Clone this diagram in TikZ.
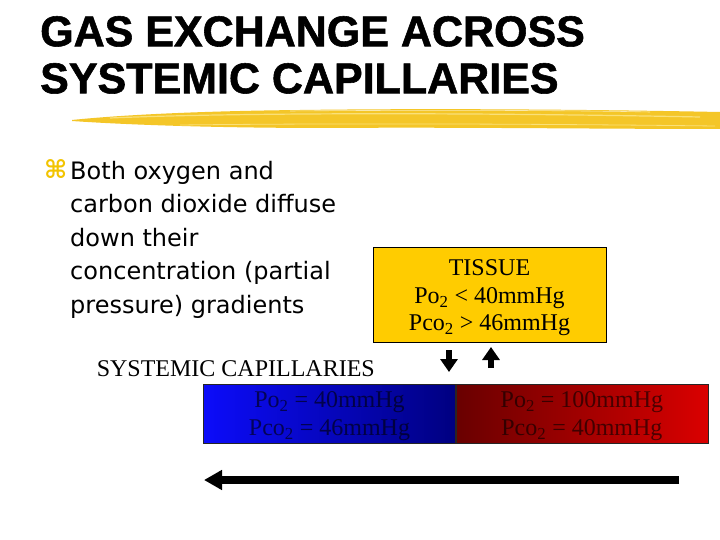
\documentclass[tikz,border=0pt]{standalone}
\usepackage{fontspec}
\setmainfont{Liberation Serif}
\setsansfont{Liberation Sans}
\newfontfamily\titlefont[BoldFeatures={FakeBold=1.3}]{Liberation Sans}
\newfontfamily\slidefont{DejaVu Sans}
\usetikzlibrary{positioning,arrows.meta,shapes}
\definecolor{tissueyellow}{RGB}{255,204,0}
\definecolor{brushyellow}{RGB}{244,198,40}
\definecolor{brushlight}{RGB}{250,224,120}
\definecolor{cmdgold}{RGB}{242,196,0}
\definecolor{venleft}{RGB}{12,12,250}
\definecolor{venright}{RGB}{0,0,128}
\definecolor{artleft}{RGB}{105,0,0}
\definecolor{artright}{RGB}{218,0,0}

\begin{document}
\begin{tikzpicture}[
  x=1pt, y=-1pt,
  title/.style   = {font=\titlefont\bfseries\fontsize{43}{47}\selectfont,
                    align=left, inner sep=0pt, anchor=north west},
  bullet/.style  = {font=\slidefont\fontsize{24}{33.5}\selectfont,
                    align=left, inner sep=0pt, anchor=north west},
  caption/.style = {font=\fontsize{24}{28}\selectfont, inner sep=0pt},
  tissuebox/.style = {draw=black, fill=tissueyellow,
                    minimum width=233pt, minimum height=95pt, inner sep=0pt},
  tissuetext/.style = {align=center, inner sep=0pt, yshift=-3pt,
                    font=\fontsize{24}{27.5}\selectfont},
  capbox/.style  = {draw=black!85, minimum width=252pt, minimum height=59pt,
                    inner sep=0pt},
  captext/.style = {align=center, inner sep=0pt, yshift=-2.5pt,
                    text opacity=0.6, font=\fontsize{24}{28}\selectfont},
  vein/.style    = {capbox, left color=venleft, right color=venright},
  artery/.style  = {capbox, left color=artleft, right color=artright},
  flow/.style    = {-{Triangle[length=18pt,width=19pt]}, line width=7.5pt},
  swap/.style    = {-{Triangle[length=13pt,width=17pt]}, line width=6pt},
]
\fill[white] (0,0) rectangle (720,540);
\useasboundingbox (0,0) rectangle (720,540);

\node[title] (title) at (40,16) {GAS EXCHANGE ACROSS\\SYSTEMIC CAPILLARIES};

\fill[brushyellow] (72,120) .. controls (120,115) and (200,111) .. (300,110)
  .. controls (450,108) and (620,110) .. (720,112) -- (720,129)
  .. controls (600,129) and (450,127) .. (330,128)
  .. controls (220,128) and (130,125) .. (72,121) -- cycle;
\draw[brushlight, line width=1.2pt] (110,118) .. controls (250,112) and (500,113) .. (700,117);
\draw[brushlight, line width=0.8pt] (180,125) .. controls (350,123) and (550,124) .. (715,126);
\draw[white, line width=0.6pt, opacity=0.6] (290,111) .. controls (400,110) and (560,110) .. (650,112);

\node[bullet] (points) at (70,161)
  {Both oxygen and\\carbon dioxide diffuse\\down their\\concentration (partial\\pressure) gradients};
\node[font=\slidefont\bfseries\fontsize{25}{25}\selectfont, text=cmdgold,
      inner sep=0pt, anchor=north west] (cmdsym) at (44,159) {⌘};

\node[tissuebox, label={[tissuetext]center:{TISSUE\\Po\textsubscript{2} < 40mmHg\\Pco\textsubscript{2} > 46mmHg}}]
  (tissue) at (489.5,295) {};

\node[vein, label={[captext]center:{Po\textsubscript{2} = 40mmHg\\Pco\textsubscript{2} = 46mmHg}}]
  (venous) at (329.5,414) {};
\node[artery, right=0pt of venous,
      label={[captext]center:{Po\textsubscript{2} = 100mmHg\\Pco\textsubscript{2} = 40mmHg}}]
  (arterial) {};
\node[caption, anchor=base east] (capname) at (375,376) {SYSTEMIC CAPILLARIES};

\coordinate (o2top)  at (449,350);
\coordinate (o2bot)  at (449,372);
\coordinate (co2top) at (491,347);
\coordinate (co2bot) at (491,368);
\draw[swap] (o2top) -- (o2bot);
\draw[swap] (co2bot) -- (co2top);

\coordinate (flowstart) at (679,480);
\coordinate (flowend)   at (204,480);
\draw[flow] (flowstart) -- (flowend);
\end{tikzpicture}
\end{document}
